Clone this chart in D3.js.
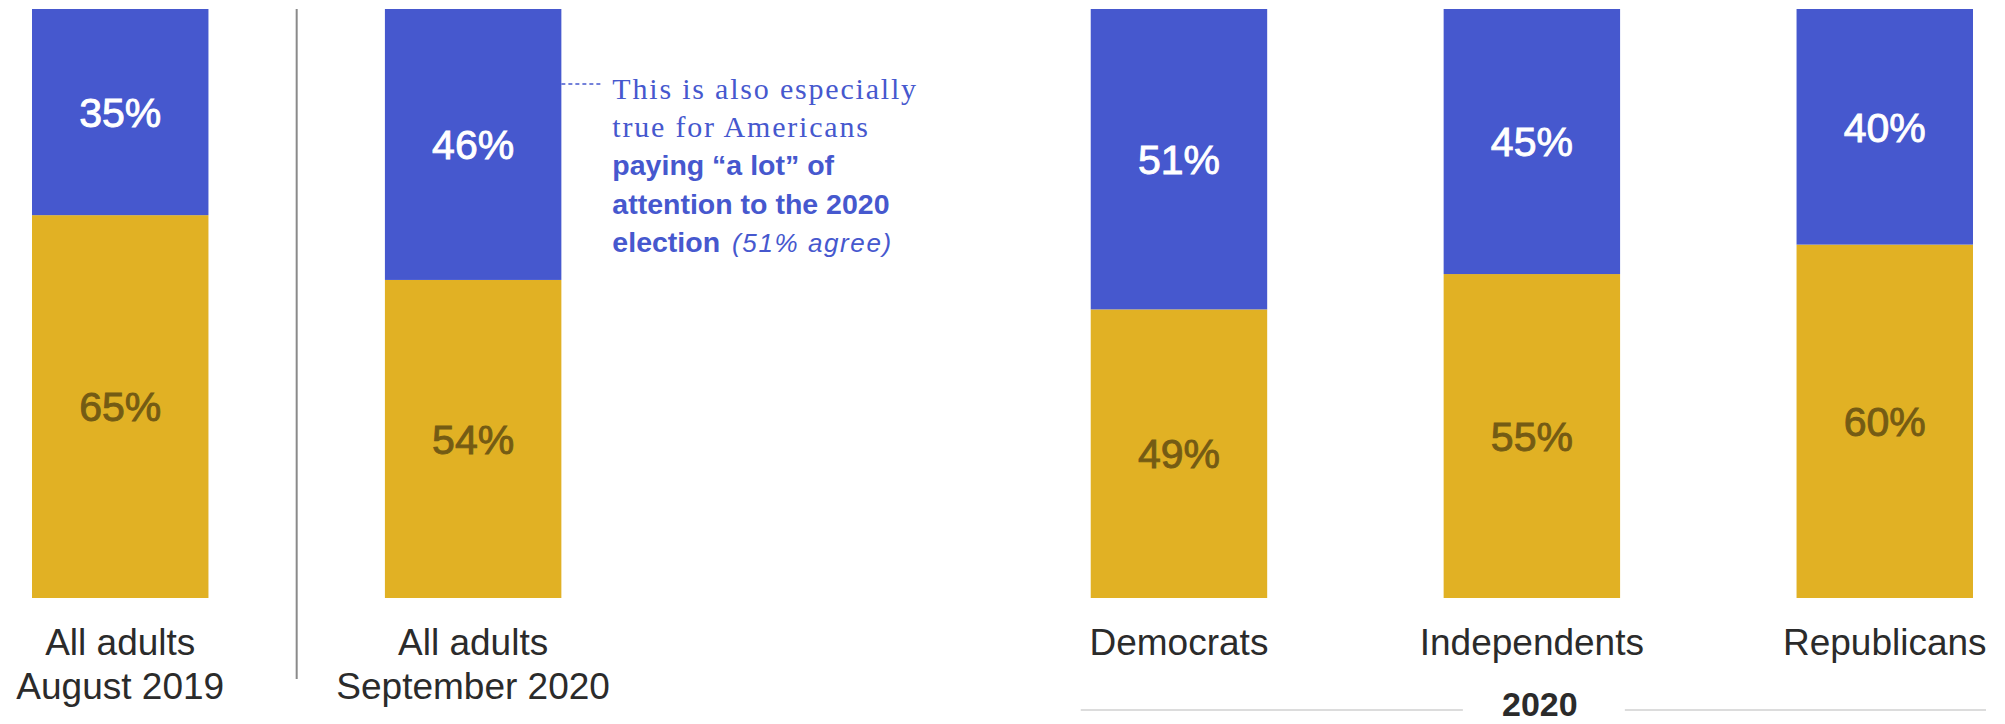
<!DOCTYPE html>
<html>
<head>
<meta charset="utf-8">
<script src="https://cdn.jsdelivr.net/npm/d3@7/dist/d3.min.js"></script>
<style>
  html, body { margin: 0; padding: 0; background: #ffffff; }
  svg { display: block; }
</style>
</head>
<body>
<svg id="chart" width="2005" height="724"></svg>
<script>
// Survey groups, in left-to-right order; "gap" is an empty slot kept for the note.
const slots = ["aug2019", "sep2020", "gap", "dem", "ind", "rep"];
const categories = ["aug2019", "sep2020", "dem", "ind", "rep"];
const categoryLabels = [
  ["All adults", "August 2019"],
  ["All adults", "September 2020"],
  ["Democrats"],
  ["Independents"],
  ["Republicans"]
];
// Share agreeing (top, blue) and not agreeing (bottom, gold), in percent.
const agree = [35, 46, 51, 45, 40];
const disagree = [65, 54, 49, 55, 60];
const groupLabel = "2020";
const noteSerifLines = ["This is also especially", "true for Americans"];
const noteBoldLines = ["paying \u201ca lot\u201d of", "attention to the 2020", "election"];
const noteAside = "(51% agree)";

const BLUE = "#4658CE";
const GOLD = "#E1B124";
const GOLD_TEXT = "#745B14";
const INK = "#2b2b2b";

const svg = d3.select("#chart");

const x = d3.scaleBand().domain(slots).range([32, 1973]).paddingInner(0.5).paddingOuter(0);
const y = d3.scaleLinear().domain([0, 100]).range([598, 9]);
const bw = x.bandwidth();

const rows = categories.map((c, i) => ({ key: c, agree: agree[i], disagree: disagree[i], label: categoryLabels[i] }));

const bars = svg.append("g").attr("class", "bars");

// gold segment from 0 up to the "not agree" share
bars.selectAll("rect.low").data(rows).join("rect")
  .attr("class", "low")
  .attr("x", d => x(d.key))
  .attr("width", bw)
  .attr("y", d => y(d.disagree))
  .attr("height", d => y(0) - y(d.disagree))
  .attr("fill", GOLD);

// blue segment stacked on top
bars.selectAll("rect.high").data(rows).join("rect")
  .attr("class", "high")
  .attr("x", d => x(d.key))
  .attr("width", bw)
  .attr("y", d => y(d.disagree + d.agree))
  .attr("height", d => y(d.disagree) - y(d.disagree + d.agree))
  .attr("fill", BLUE);

// value labels, centred in each segment
const valueFont = "'Liberation Sans', Arial, sans-serif";
bars.selectAll("text.vhigh").data(rows).join("text")
  .attr("class", "vhigh")
  .attr("x", d => x(d.key) + bw / 2)
  .attr("y", d => (y(d.disagree) + y(d.disagree + d.agree)) / 2)
  .attr("dy", "0.36em")
  .attr("text-anchor", "middle")
  .attr("font-family", valueFont)
  .attr("font-size", 41)
  .attr("fill", "#ffffff")
  .attr("stroke", "#ffffff")
  .attr("stroke-width", 0.9)
  .text(d => d.agree + "%");

bars.selectAll("text.vlow").data(rows).join("text")
  .attr("class", "vlow")
  .attr("x", d => x(d.key) + bw / 2)
  .attr("y", d => (y(0) + y(d.disagree)) / 2)
  .attr("dy", "0.36em")
  .attr("text-anchor", "middle")
  .attr("font-family", valueFont)
  .attr("font-size", 41)
  .attr("fill", GOLD_TEXT)
  .attr("stroke", GOLD_TEXT)
  .attr("stroke-width", 0.9)
  .text(d => d.disagree + "%");

// category labels under the bars
const cat = svg.append("g").attr("class", "categories");
cat.selectAll("text").data(rows).join("text")
  .attr("x", d => x(d.key) + bw / 2)
  .attr("y", 655)
  .attr("text-anchor", "middle")
  .attr("font-family", valueFont)
  .attr("font-size", 37)
  .attr("fill", INK)
  .selectAll("tspan").data(d => d.label.map(t => ({ t, cx: x(d.key) + bw / 2 })))
  .join("tspan")
  .attr("x", d => d.cx)
  .attr("dy", (d, i) => i === 0 ? 0 : 44)
  .text(d => d.t);

// vertical rule between the 2019 and 2020 totals
const ruleX = (x("aug2019") + bw + x("sep2020")) / 2;
svg.append("line")
  .attr("x1", ruleX).attr("x2", ruleX)
  .attr("y1", y(100)).attr("y2", 679)
  .attr("stroke", "#8a8a8a")
  .attr("stroke-width", 2);

// bracket under the party bars
const gx = x("ind") + bw / 2 + 8;
const gy = 710;
const gLeft = x("dem") - 10;
const gRight = x("rep") + bw + 13;
svg.append("line")
  .attr("x1", gLeft).attr("x2", gx - 77)
  .attr("y1", gy).attr("y2", gy)
  .attr("stroke", "#dcdcdc").attr("stroke-width", 2);
svg.append("line")
  .attr("x1", gx + 85).attr("x2", gRight)
  .attr("y1", gy).attr("y2", gy)
  .attr("stroke", "#dcdcdc").attr("stroke-width", 2);
svg.append("text")
  .attr("x", gx).attr("y", 716)
  .attr("text-anchor", "middle")
  .attr("font-family", valueFont)
  .attr("font-size", 34)
  .attr("font-weight", "bold")
  .attr("fill", INK)
  .text(groupLabel);

// note next to the September 2020 bar
const noteX = x("sep2020") + bw + 51;
const leaderY = 84;
svg.append("line")
  .attr("x1", x("sep2020") + bw).attr("x2", noteX - 11)
  .attr("y1", leaderY).attr("y2", leaderY)
  .attr("stroke", BLUE)
  .attr("stroke-width", 1.5)
  .attr("stroke-dasharray", "4,3");

const note = svg.append("g").attr("class", "note").attr("fill", BLUE);
const baselines = [99, 137, 175, 214, 252];
noteSerifLines.forEach((t, i) => {
  note.append("text")
    .attr("x", noteX).attr("y", baselines[i])
    .attr("font-family", "'Liberation Serif', 'Times New Roman', serif")
    .attr("font-size", 30)
    .attr("letter-spacing", 1.8)
    .text(t);
});
noteBoldLines.forEach((t, i) => {
  const tx = note.append("text")
    .attr("x", noteX).attr("y", baselines[i + 2])
    .attr("font-family", valueFont)
    .attr("font-size", 28.5)
    .attr("font-weight", "bold")
    .text(t);
  if (i === noteBoldLines.length - 1) {
    tx.append("tspan")
      .attr("dx", 12)
      .attr("font-weight", "normal")
      .attr("font-style", "italic")
      .attr("font-size", 26)
      .attr("letter-spacing", 1.6)
      .text(noteAside);
  }
});
</script>
</body>
</html>
